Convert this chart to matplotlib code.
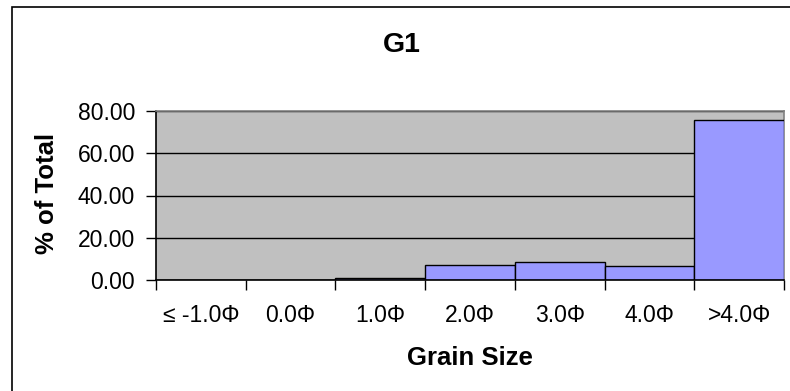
import matplotlib.pyplot as plt
import matplotlib as mpl
from matplotlib.patches import Rectangle
from matplotlib.ticker import FormatStrFormatter
import numpy as np

categories = ["\u2264 -1.0\u03a6", "0.0\u03a6", "1.0\u03a6", "2.0\u03a6", "3.0\u03a6", "4.0\u03a6", ">4.0\u03a6"]
percent = [0.0, 0.0, 1.1, 7.1, 8.7, 6.5, 75.7]
yticks = [0, 20, 40, 60, 80]

mpl.rcParams['font.family'] = ['Liberation Sans', 'DejaVu Sans']

fig = plt.figure(figsize=(7.9, 3.91), dpi=100)
ax = fig.add_axes([156 / 790, 1 - 280 / 391, 628 / 790, 169 / 391])

# chart border, running off the right and bottom edges
fig.patches.append(Rectangle((12 / 790, -0.2), 1.2, 1.2 - 7 / 391 + 0.0,
                             transform=fig.transFigure, fill=False,
                             edgecolor="black", linewidth=1.2, clip_on=False))

x = np.arange(len(categories))
ax.set_facecolor("#c0c0c0")
ax.bar(x, percent, width=1.0, color="#9999ff", edgecolor="black", linewidth=1.0, zorder=3)

ax.set_xlim(-0.5, len(categories) - 0.5)
ax.set_ylim(0, 80)
ax.set_yticks(yticks)
ax.yaxis.set_major_formatter(FormatStrFormatter("%.2f"))
ax.grid(axis="y", color="black", linewidth=1.0, zorder=1)

# tick marks on the category boundaries, labels in the middle
ax.set_xticks(np.arange(len(categories) + 1) - 0.5)
ax.set_xticklabels([])
ax.set_xticks(x, minor=True)
ax.set_xticklabels(categories, minor=True)
ax.tick_params(axis="x", which="major", length=7, width=1, direction="out")
ax.tick_params(axis="x", which="minor", length=0, pad=17, labelsize=16.5)
ax.tick_params(axis="y", length=7, width=1, direction="out", pad=8, labelsize=16.5)

for side in ["top", "right"]:
    ax.spines[side].set_color("#808080")
    ax.spines[side].set_linewidth(1.2)
for side in ["left", "bottom"]:
    ax.spines[side].set_color("black")
    ax.spines[side].set_linewidth(1.2)
ax.spines["bottom"].set_zorder(4)

fig.text(402 / 790, 1 - 45 / 391, "G1", ha="center", va="center",
         fontsize=20.5, fontweight="bold")
fig.text(470 / 790, 1 - 358 / 391, "Grain Size", ha="center", va="center",
         fontsize=18.5, fontweight="bold")
fig.text(47 / 790, 1 - 193 / 391, "% of Total", ha="center", va="center",
         rotation=90, fontsize=18.5, fontweight="bold")

fig.savefig("out.png", dpi=100)
